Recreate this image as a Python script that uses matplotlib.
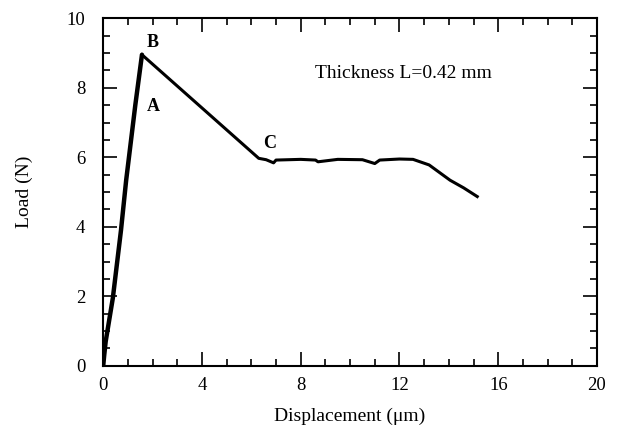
import matplotlib.pyplot as plt
from matplotlib.ticker import MultipleLocator

plt.rcParams['font.family'] = ['Liberation Serif', 'DejaVu Serif']

# load-displacement curve
disp = [0.0, 0.04, 0.1, 0.39, 0.72, 0.93, 1.3, 1.57,
        6.3, 6.6, 6.9, 7.0, 8.0, 8.6, 8.7, 9.5, 10.5, 11.0,
        11.2, 12.0, 12.55, 13.2, 14.05, 14.6, 15.15]
load = [0.0, 0.3, 0.7, 1.95, 3.9, 5.34, 7.5, 8.95,
        5.97, 5.93, 5.84, 5.92, 5.94, 5.92, 5.87, 5.94, 5.93, 5.82,
        5.92, 5.95, 5.94, 5.78, 5.34, 5.12, 4.87]
peak = 7  # index of point B

points = {'A': (2.05, 7.45), 'B': (2.0, 9.3), 'C': (6.75, 6.4)}

fig = plt.figure(figsize=(6.18, 4.34), dpi=100)
ax = fig.add_axes([0.167, 0.157, 0.799, 0.801])

ax.plot(disp[:peak + 1], load[:peak + 1], color='black', lw=3.2, solid_capstyle='round')
ax.plot(disp[peak:], load[peak:], color='black', lw=2.2, solid_joinstyle='round')

for name, (x, y) in points.items():
    ax.text(x, y, name, fontsize=13, fontweight='bold', ha='center', va='center')

ax.text(12.15, 8.4, 'Thickness L=0.42 mm', fontsize=14, ha='center', va='center')

ax.set_xlim(0, 20)
ax.set_ylim(0, 10)
ax.xaxis.set_major_locator(MultipleLocator(4))
ax.xaxis.set_minor_locator(MultipleLocator(1))
ax.yaxis.set_major_locator(MultipleLocator(2))
ax.yaxis.set_minor_locator(MultipleLocator(0.5))
ax.tick_params(which='both', direction='in', top=True, right=True, labelsize=13.5, width=1.2)
ax.tick_params(which='major', length=10)
ax.tick_params(which='minor', length=5)
ax.tick_params(axis='x', which='major', pad=8)
ax.tick_params(axis='y', which='major', pad=13)
for s in ax.spines.values():
    s.set_linewidth(1.5)

ax.set_xlabel('Displacement (\u03bcm)', fontsize=14, labelpad=10)
ax.set_ylabel('Load (N)', fontsize=14, labelpad=24)

fig.savefig('out.png', dpi=100)
